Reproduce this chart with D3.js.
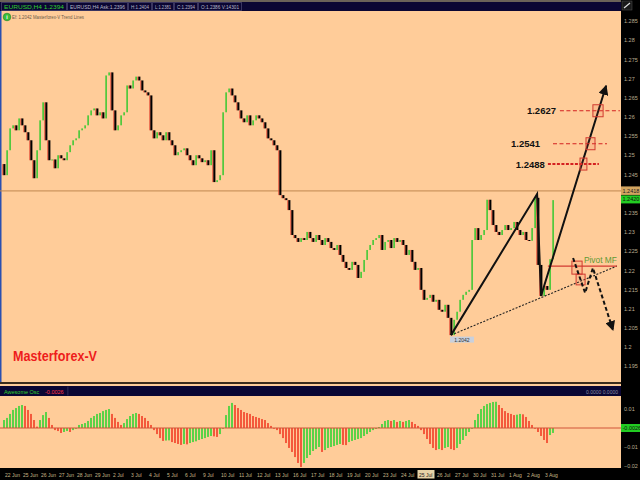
<!DOCTYPE html>
<html><head><meta charset="utf-8">
<script src="https://cdn.jsdelivr.net/npm/d3@7"></script>
<style>html,body{margin:0;padding:0;background:#000;}svg{display:block;}</style>
</head><body>
<svg id="c" width="640" height="480"></svg>
<script>
// ---------------- DATA ----------------
const firstOpen = 1.2488;
const closes = [
1.2459,1.2524,1.2581,1.2589,1.2576,1.2607,1.2589,1.2571,1.2550,1.2498,
1.2451,1.2524,1.2602,1.2649,1.2550,1.2498,1.2500,1.2477,1.2511,1.2503,
1.2498,1.2519,1.2537,1.2550,1.2555,1.2576,1.2581,1.2589,1.2615,1.2628,
1.2633,1.2615,1.2623,1.2607,1.2719,1.2727,1.2628,1.2576,1.2589,1.2615,
1.2623,1.2693,1.2685,1.2706,1.2716,1.2706,1.2680,1.2675,1.2667,1.2576,
1.2555,1.2571,1.2563,1.2550,1.2571,1.2550,1.2537,1.2511,1.2519,1.2524,
1.2529,1.2511,1.2498,1.2485,1.2511,1.2503,1.2493,1.2498,1.2485,1.2524,
1.2441,1.2446,1.2459,1.2623,1.2675,1.2685,1.2667,1.2649,1.2628,1.2607,
1.2597,1.2615,1.2589,1.2602,1.2615,1.2607,1.2597,1.2581,1.2555,1.2550,
1.2537,1.2524,1.2407,1.2399,1.2394,1.2368,1.2303,1.2295,1.2285,1.2295,
1.2290,1.2311,1.2295,1.2285,1.2303,1.2290,1.2277,1.2295,1.2285,1.2269,
1.2264,1.2277,1.2251,1.2233,1.2217,1.2212,1.2233,1.2225,1.2191,1.2207,
1.2238,1.2264,1.2277,1.2290,1.2295,1.2303,1.2264,1.2285,1.2290,1.2269,
1.2295,1.2285,1.2290,1.2277,1.2251,1.2264,1.2233,1.2212,1.2217,1.2160,
1.2134,1.2139,1.2147,1.2129,1.2134,1.2108,1.2103,1.2121,1.2087,1.2042,
1.2082,1.2103,1.2134,1.2147,1.2155,1.2160,1.2290,1.2321,1.2290,1.2303,
1.2316,1.2395,1.2368,1.2329,1.2311,1.2303,1.2316,1.2329,1.2316,1.2321,
1.2337,1.2316,1.2303,1.2311,1.2290,1.2288,1.2321,1.2400,1.2225,1.2144,
1.2170,1.2160,1.2240,1.2394];

const aoValues = [
0.0042,0.0053,0.0074,0.0095,0.0105,0.0116,0.0121,0.0116,0.0095,0.0074,
0.0042,0.0007,0.0042,0.0068,0.0084,0.0053,0.0016,-0.0011,-0.0016,-0.0026,
-0.0021,-0.0016,-0.0021,-0.0011,0.0000,0.0016,0.0021,0.0026,0.0037,0.0053,
0.0063,0.0074,0.0079,0.0089,0.0095,0.0100,0.0074,0.0053,0.0032,0.0016,
0.0026,0.0047,0.0063,0.0074,0.0079,0.0074,0.0063,0.0053,0.0037,0.0016,
-0.0011,-0.0032,-0.0053,-0.0068,-0.0066,-0.0065,-0.0074,-0.0079,-0.0084,-0.0089,
-0.0084,-0.0086,-0.0079,-0.0074,-0.0070,-0.0063,-0.0058,-0.0053,-0.0047,-0.0042,
-0.0044,-0.0047,-0.0032,0.0000,0.0068,0.0116,0.0132,0.0121,0.0105,0.0095,
0.0084,0.0079,0.0074,0.0063,0.0058,0.0053,0.0047,0.0042,0.0026,0.0011,
-0.0002,-0.0011,-0.0032,-0.0053,-0.0079,-0.0105,-0.0126,-0.0153,-0.0184,-0.0205,
-0.0184,-0.0158,-0.0142,-0.0121,-0.0111,-0.0100,-0.0126,-0.0116,-0.0105,-0.0100,
-0.0095,-0.0089,-0.0084,-0.0089,-0.0090,-0.0074,-0.0068,-0.0063,-0.0058,-0.0053,
-0.0042,-0.0032,-0.0021,-0.0011,-0.0005,0.0005,0.0021,0.0037,0.0042,0.0037,
0.0042,0.0032,0.0037,0.0032,0.0037,0.0042,0.0032,0.0021,0.0011,-0.0011,
-0.0032,-0.0058,-0.0084,-0.0105,-0.0116,-0.0111,-0.0116,-0.0105,-0.0100,-0.0111,
-0.0116,-0.0105,-0.0084,-0.0063,-0.0042,-0.0021,0.0000,0.0042,0.0074,0.0100,
0.0116,0.0126,0.0132,0.0137,0.0138,0.0121,0.0105,0.0089,0.0079,0.0074,
0.0068,0.0070,0.0074,0.0072,0.0058,0.0037,0.0016,-0.0002,-0.0021,-0.0042,
-0.0063,-0.0079,-0.0037,-0.0026];

const priceTicks = [1.195,1.2,1.205,1.21,1.215,1.22,1.225,1.23,1.235,1.24,1.245,1.25,1.255,1.26,1.265,1.27,1.275,1.28,1.285];
const aoTicks = [0.01,-0.01,-0.02];
const timeLabels = ["22 Jun","25 Jun","26 Jun","27 Jun","28 Jun","29 Jun","2 Jul","3 Jul","4 Jul","5 Jul","6 Jul","9 Jul","10 Jul","11 Jul","12 Jul","13 Jul","16 Jul","17 Jul","18 Jul","19 Jul","20 Jul","23 Jul","24 Jul","25 Jul","26 Jul","27 Jul","30 Jul","31 Jul","1 Aug","2 Aug","3 Aug"];
const highlightedTimeLabel = 23;
const bidPrice = 1.2418;
const askPrice = 1.2420;
const lowLabel = {i:149, p:1.2042, text:"1.2042"};
const targetLevels = [1.2627, 1.2541, 1.2488];
const targetLineSpan = [[185.3,205.3],[183,201],[181.3,198.3]];
const targetBoxI = [[196.3,199.7],[194,197],[192,194.3]];
const targetLabelI = [184, 178.7, 180.3];
const solidPath = [[149,1.2042],[177.7,1.2410],[179,1.2144],[200.7,1.2692]];
const dottedPath = [[149,1.2042],[204.3,1.2222]];
const pivotLine = {i0:181.3, i1:204.3, p:1.2222, label:"Pivot MF"};
const dashedPath = [[189.7,1.2243],[193.7,1.2152],[196.3,1.2217],[203,1.2055]];
const pivotBoxes = [[189.3,192.7,1.2235,1.2201],[190.7,193.7,1.2201,1.2173]];

// ---------------- LAYOUT ----------------
const W=640,H=480,PR=621;
const MAIN_TOP=11, MAIN_BOT=382, AO_TOP=396, AO_BOT=468;
const N = closes.length;
const opens = closes.map((c,i)=> i===0 ? firstOpen : closes[i-1]);

const x = d3.scaleLinear().domain([0,N-1]).range([4,4+3*(N-1)]);
const y = d3.scaleLinear().domain([1.195,1.28]).range([370.4,44.4]);
const ya = d3.scaleLinear().domain([-0.02,0.01]).range([466,409]);

const svg = d3.select('#c');
const FONT = "'Liberation Sans', Arial, sans-serif";

svg.append('rect').attr('width',W).attr('height',H).attr('fill','#000');
svg.append('rect').attr('x',0).attr('y',MAIN_TOP).attr('width',PR).attr('height',MAIN_BOT-MAIN_TOP).attr('fill','#ffcc99');
svg.append('rect').attr('x',0).attr('y',382).attr('width',PR).attr('height',2).attr('fill','#3c2c1c');
svg.append('rect').attr('x',0).attr('y',384).attr('width',PR).attr('height',2).attr('fill','#ffcc99');
svg.append('rect').attr('x',0).attr('y',386).attr('width',PR).attr('height',10).attr('fill','#0b0633');
svg.append('rect').attr('x',0).attr('y',AO_TOP).attr('width',PR).attr('height',AO_BOT-AO_TOP).attr('fill','#ffcc99');
svg.append('rect').attr('x',0).attr('y',0).attr('width',PR).attr('height',2).attr('fill','#6b6258');
svg.append('rect').attr('x',0).attr('y',2).attr('width',PR).attr('height',9).attr('fill','#0b0633');
svg.append('rect').attr('x',0).attr('y',MAIN_TOP).attr('width',1.5).attr('height',MAIN_BOT-MAIN_TOP).attr('fill','#2a4fb0');

// header boxes
const hdr = [
 {x0:1,x1:67,t:"EURUSD,H4  1.2394",c:"#2fd02f"},
 {x0:67,x1:128,t:"EURUSD,H4 Ask:1.2396",c:"#b8b8c8"},
 {x0:128,x1:152,t:"H:1.2404",c:"#b8b8c8"},
 {x0:152,x1:174,t:"L:1.2381",c:"#b8b8c8"},
 {x0:174,x1:198,t:"C:1.2394",c:"#b8b8c8"},
 {x0:198,x1:242,t:"O:1.2386 V:14301",c:"#b8b8c8"}];
hdr.forEach(h=>{
  svg.append('rect').attr('x',h.x0+0.5).attr('y',2.5).attr('width',h.x1-h.x0-1).attr('height',8).attr('fill','none').attr('stroke','#3a3560').attr('stroke-width',1);
  svg.append('text').attr('x',h.x0+3).attr('y',9).attr('font-family',FONT).attr('font-size',5.5).attr('fill',h.c)
    .attr('textLength',h.x1-h.x0-6).attr('lengthAdjust','spacingAndGlyphs').text(h.t);
});
svg.append('circle').attr('cx',7).attr('cy',17).attr('r',3.8).attr('fill','#3cbf3c').attr('stroke','#1f7f1f').attr('stroke-width',0.6);
svg.append('text').attr('x',7).attr('y',19).attr('text-anchor','middle').attr('font-family',FONT).attr('font-size',5.5).attr('font-weight','bold').attr('fill','#fff').text('i');
svg.append('text').attr('x',12).attr('y',19).attr('font-family',FONT).attr('font-size',5).attr('fill','#6a5a4a')
  .attr('textLength',72).attr('lengthAdjust','spacingAndGlyphs').text('Ef: 1.2042 Masterforex-V Trend Lines');

svg.append('clipPath').attr('id','mainclip').append('rect').attr('x',0).attr('y',MAIN_TOP).attr('width',PR).attr('height',MAIN_BOT-MAIN_TOP);
const main = svg.append('g').attr('clip-path','url(#mainclip)');

main.append('line').attr('x1',0).attr('x2',PR).attr('y1',y(bidPrice)).attr('y2',y(bidPrice)).attr('stroke','#c08850').attr('stroke-width',1);

// candles
const cand = main.append('g');
closes.forEach((c,i)=>{
  const o=opens[i];
  const up = c>=o;
  const y0=y(Math.max(o,c)), y1=y(Math.min(o,c));
  const hgt=Math.max(1,y1-y0);
  if(up){
    cand.append('rect').attr('x',x(i)-0.6).attr('y',y0).attr('width',1.4).attr('height',hgt).attr('fill','#28c828');
  } else {
    cand.append('rect').attr('x',x(i)-0.8).attr('y',y0).attr('width',2.2).attr('height',hgt).attr('fill','#000');
    cand.append('rect').attr('x',x(i)-1.6).attr('y',y0).attr('width',0.8).attr('height',hgt).attr('fill','#e03a2a');
  }
});

const defs = svg.append('defs');
defs.append('marker').attr('id','ah').attr('viewBox','0 0 10 10').attr('refX',9).attr('refY',5)
  .attr('markerWidth',5).attr('markerHeight',5).attr('markerUnits','strokeWidth').attr('orient','auto')
  .append('path').attr('d','M0,0 L10,5 L0,10 z').attr('fill','#111');

const lineGen = d3.line().x(d=>x(d[0])).y(d=>y(d[1]));
main.append('path').attr('d',lineGen(dottedPath)).attr('fill','none').attr('stroke','#222').attr('stroke-width',1.1).attr('stroke-dasharray','2,1.5');
main.append('line').attr('x1',x(pivotLine.i0)).attr('x2',x(pivotLine.i1)).attr('y1',y(pivotLine.p)).attr('y2',y(pivotLine.p)).attr('stroke','#d23a32').attr('stroke-width',1.4);
main.append('text').attr('x',x(pivotLine.i1)).attr('y',y(pivotLine.p)-3).attr('text-anchor','end').attr('font-family',FONT).attr('font-size',9.5)
  .attr('fill','#5f9a35').attr('textLength',33).attr('lengthAdjust','spacingAndGlyphs').text(pivotLine.label);
pivotBoxes.forEach(b=>{
  main.append('rect').attr('x',x(b[0])).attr('y',y(b[2])).attr('width',x(b[1])-x(b[0])).attr('height',y(b[3])-y(b[2]))
    .attr('fill','rgba(230,80,60,0.12)').attr('stroke','#d03a30').attr('stroke-width',1);
});
main.append('path').attr('d',lineGen(solidPath)).attr('fill','none').attr('stroke','#111').attr('stroke-width',2).attr('stroke-linejoin','miter').attr('marker-end','url(#ah)');
main.append('path').attr('d',lineGen(dashedPath)).attr('fill','none').attr('stroke','#111').attr('stroke-width',2).attr('stroke-dasharray','4,2.5').attr('marker-end','url(#ah)');

targetLevels.forEach((lv,k)=>{
  const s=targetLineSpan[k], b=targetBoxI[k];
  main.append('line').attr('x1',x(s[0])).attr('x2',x(s[1])).attr('y1',y(lv)).attr('y2',y(lv))
    .attr('stroke','#d42020').attr('stroke-width',k===2?2:1.2).attr('stroke-dasharray',k===2?'3,1.5':'4,2.5');
  main.append('rect').attr('x',x(b[0])).attr('y',y(lv)-6).attr('width',x(b[1])-x(b[0])).attr('height',12)
    .attr('fill','rgba(230,80,60,0.12)').attr('stroke','#d03a30').attr('stroke-width',1);
  main.append('text').attr('x',x(targetLabelI[k])).attr('y',y(lv)+3.5).attr('text-anchor','end').attr('font-family',FONT)
    .attr('font-size',9.5).attr('font-weight','bold').attr('fill','#111').text(lv.toFixed(4));
});

main.append('rect').attr('x',x(lowLabel.i)-1).attr('y',y(lowLabel.p)+1.5).attr('width',24).attr('height',6).attr('fill','#c9d0dc');
main.append('text').attr('x',x(lowLabel.i)+11).attr('y',y(lowLabel.p)+6.5).attr('text-anchor','middle').attr('font-family',FONT)
  .attr('font-size',5).attr('fill','#333').text(lowLabel.text);

svg.append('text').attr('x',13).attr('y',361).attr('font-family',"'Liberation Sans Narrow','Arial Narrow','Liberation Sans',Arial,sans-serif")
  .attr('font-size',15.5).attr('font-weight','bold').attr('fill','#ee1c1c').attr('textLength',84).attr('lengthAdjust','spacingAndGlyphs').text('Masterforex-V');

// price axis (tick hidden behind the bid box in the original)
const fmtP = v => d3.format('.3~f')(v);
priceTicks.filter(t=>Math.abs(y(t)-2-y(bidPrice))>9).forEach(t=>{
  svg.append('text').attr('x',624).attr('y',y(t)-2).attr('font-family',FONT).attr('font-size',5.5).attr('fill','#b8ac90').text(fmtP(t));
});
svg.append('rect').attr('x',621).attr('y',y(bidPrice)-4.5).attr('width',19).attr('height',8.5).attr('fill','#d2a560');
svg.append('text').attr('x',622.5).attr('y',y(bidPrice)+2).attr('font-family',FONT).attr('font-size',5.5).attr('fill','#222').text(bidPrice.toFixed(4));
svg.append('rect').attr('x',621).attr('y',y(bidPrice)+4.5).attr('width',19).attr('height',8).attr('fill','#22cc22');
svg.append('text').attr('x',622.5).attr('y',y(bidPrice)+10.5).attr('font-family',FONT).attr('font-size',5.5).attr('fill','#111').text(askPrice.toFixed(4));
svg.append('rect').attr('x',622).attr('y',1).attr('width',10).attr('height',9).attr('fill','#1a1a1a').attr('stroke','#555').attr('stroke-width',0.5);
svg.append('path').attr('d','M624,8 L630,3').attr('stroke','#ddd').attr('stroke-width',1.2);

// ---------------- AO panel ----------------
svg.append('text').attr('x',4).attr('y',393.5).attr('font-family',FONT).attr('font-size',5.5).attr('fill','#2fd02f').text('Awesome Osc');
svg.append('text').attr('x',45).attr('y',393.5).attr('font-family',FONT).attr('font-size',5.5).attr('fill','#ff3344').text(aoValues[N-1].toFixed(4));
svg.append('rect').attr('x',67.5).attr('y',386.5).attr('width',0.8).attr('height',9).attr('fill','#3a3560');
svg.append('text').attr('x',618).attr('y',393.5).attr('text-anchor','end').attr('font-family',FONT).attr('font-size',5).attr('fill','#8a8aa0').text('0.0000 0.0000');

const aog = svg.append('g');
aoValues.forEach((v,i)=>{
  const up = i===0 ? true : v>=aoValues[i-1];
  const y0=Math.min(ya(0),ya(v)), h=Math.max(0.8,Math.abs(ya(v)-ya(0)));
  aog.append('rect').attr('x',x(i)-1).attr('y',y0).attr('width',2).attr('height',h).attr('fill',up?'#3fd23a':'#f2442c').attr('opacity',0.85);
});
svg.append('line').attr('x1',0).attr('x2',PR).attr('y1',ya(0)).attr('y2',ya(0)).attr('stroke','#d2553a').attr('stroke-width',1.2);
aoTicks.forEach(t=>{
  svg.append('text').attr('x',624).attr('y',ya(t)+2).attr('font-family',FONT).attr('font-size',5.5).attr('fill','#b8ac90').text(d3.format('~g')(t));
});
svg.append('rect').attr('x',621).attr('y',ya(0)-4).attr('width',19).attr('height',8).attr('fill','#22cc22');
svg.append('text').attr('x',622.5).attr('y',ya(0)+2).attr('font-family',FONT).attr('font-size',5.5).attr('fill','#111').text(aoValues[N-1].toFixed(4));

// ---------------- time axis ----------------
timeLabels.forEach((t,k)=>{
  const tx = x(k*6)+1;
  if(k===highlightedTimeLabel){
    svg.append('rect').attr('x',tx-1.5).attr('y',470).attr('width',17).attr('height',8.5).attr('fill','#e6d3a8');
  }
  svg.append('text').attr('x',tx).attr('y',477).attr('font-family',FONT).attr('font-size',5)
    .attr('fill',k===highlightedTimeLabel?'#222':'#c8b888').text(t);
});
</script>
</body></html>
